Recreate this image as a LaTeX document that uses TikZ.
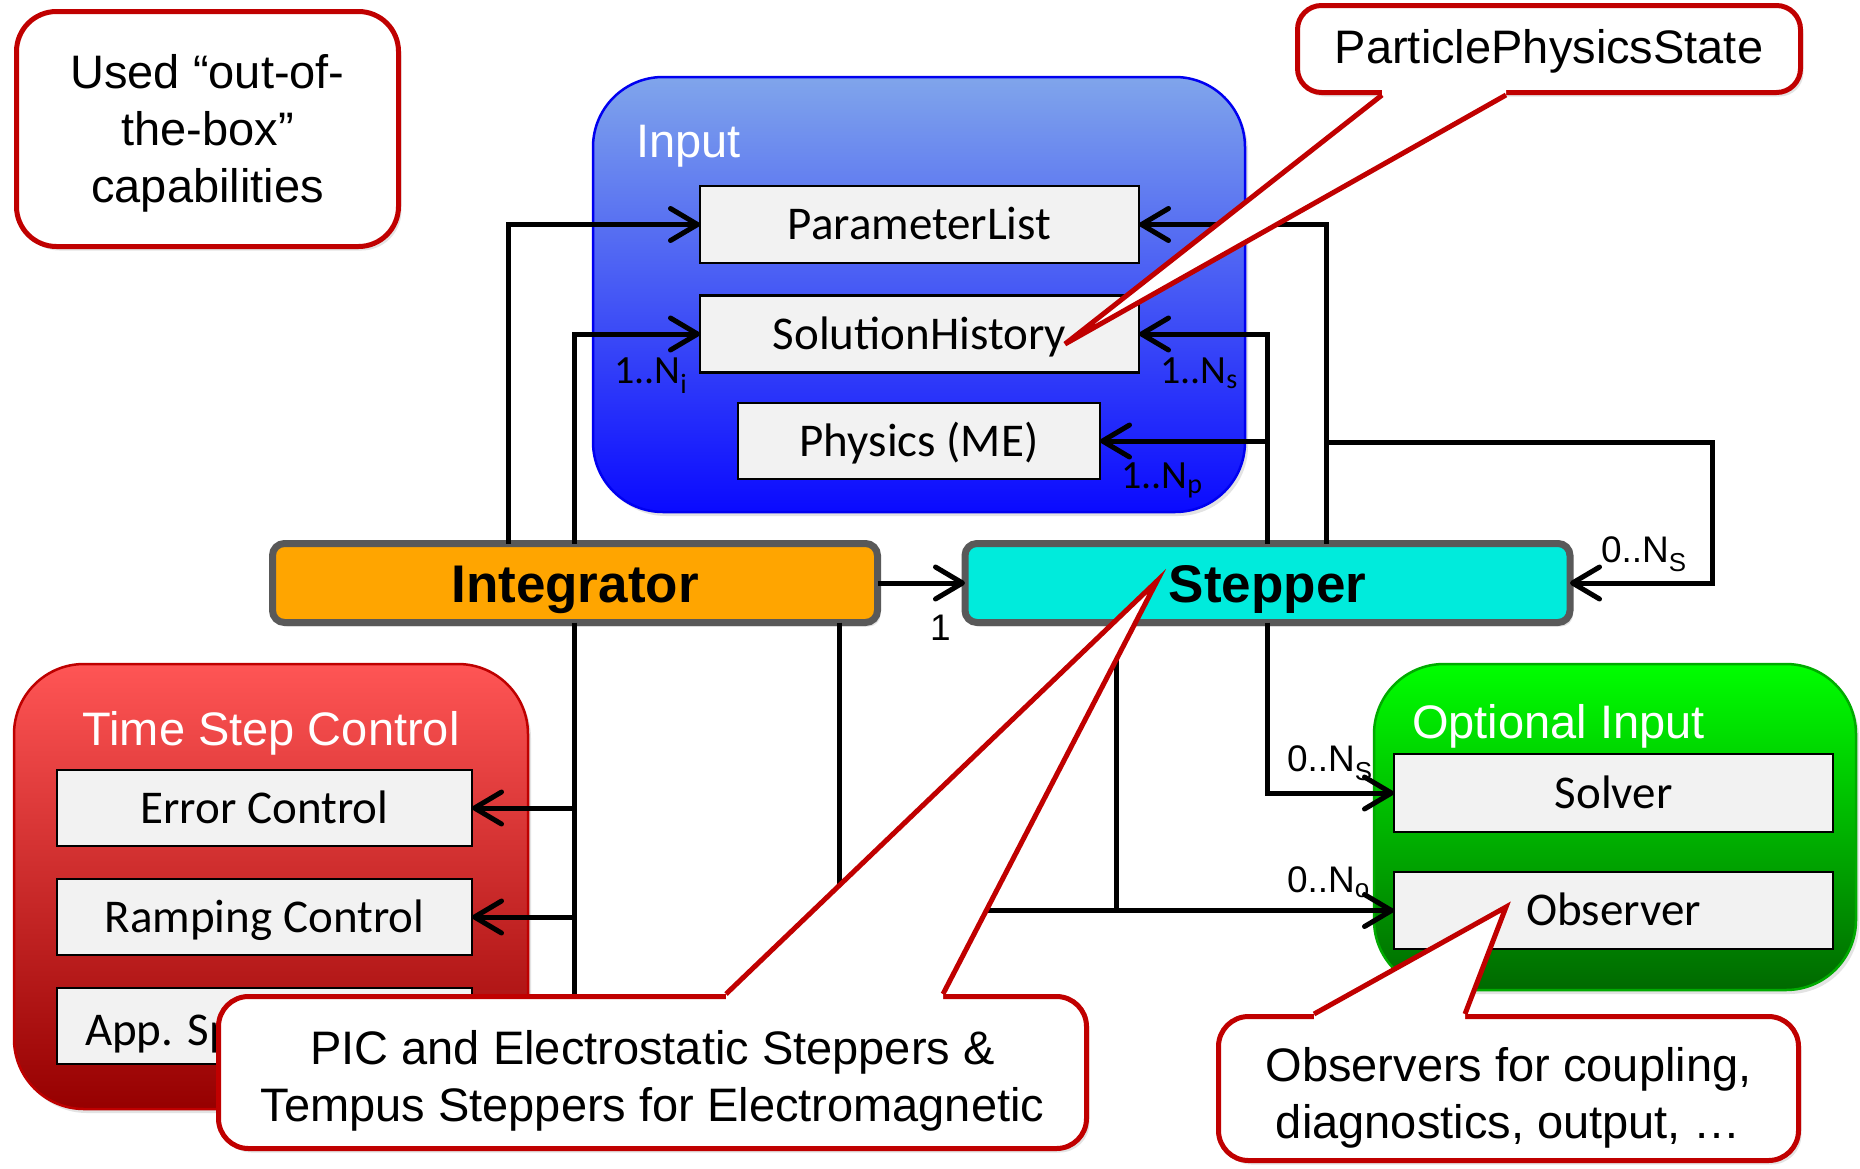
\documentclass[tikz,border=0pt]{standalone}
\usepackage{fontspec}
\setmainfont{Liberation Sans}
\newfontfamily\calfont{Carlito}
\usetikzlibrary{arrows.meta,shadows}

\definecolor{cored}{RGB}{192,0,0}
\definecolor{boxgray}{RGB}{242,242,242}
\definecolor{edgegray}{RGB}{89,89,89}
\definecolor{intorange}{RGB}{255,165,0}
\definecolor{stepcyan}{RGB}{0,235,220}
\definecolor{intop}{RGB}{128,165,235}
\definecolor{inbot}{RGB}{10,10,255}
\definecolor{inedge}{RGB}{0,0,240}
\definecolor{tsctop}{RGB}{255,85,85}
\definecolor{tscbot}{RGB}{150,0,0}
\definecolor{tscedge}{RGB}{190,0,0}
\definecolor{optop}{RGB}{0,255,0}
\definecolor{opbot}{RGB}{0,105,0}
\definecolor{opedge}{RGB}{0,170,0}

\newcommand{\calltail}[6]{% b1x, b2x, basey, inwardy, tipx, tipy
  \fill[white] (#1,#4) -- (#1,#3) -- (#5,#6) -- (#2,#3) -- (#2,#4) -- cycle;
  \draw[cored, line width=5pt, line join=miter] (#1,#3) -- (#5,#6) -- (#2,#3);
}

\begin{document}
\begin{tikzpicture}[x=1pt,y=-1pt,
  every node/.style={inner sep=0pt, outer sep=0pt},
  softshadow/.style={drop shadow={opacity=0.22, shadow xshift=3pt, shadow yshift=-4pt}},
  container/.style={rectangle, rounded corners=70pt, softshadow, line width=2.5pt},
  item/.style={rectangle, draw=black, line width=2.5pt, fill=boxgray,
    text height=36pt, text depth=6pt, font=\calfont\fontsize{47}{56}\selectfont},
  mainbox/.style={rectangle, rounded corners=12pt, draw=edgegray, line width=7pt, softshadow,
    minimum width=605pt, minimum height=79pt, text height=44pt, text depth=6pt,
    font=\bfseries\fontsize{53}{60}\selectfont},
  callbox/.style={rectangle, draw=cored, line width=5pt, fill=white, softshadow},
  calltext/.style={align=center, font=\fontsize{47}{57}\selectfont},
  conn/.style={line width=5pt, black},
  arr/.style={conn, -{Straight Barb[length=27pt,width=32pt,round]}},
  lab/.style={anchor=base west, font=\fontsize{37}{40}\selectfont},
  clab/.style={anchor=base west, font=\calfont\fontsize{40}{44}\selectfont},
  title/.style={text=white, font=\fontsize{47}{56}\selectfont}
]
\fill[white] (0,0) rectangle (1860,1168);
\useasboundingbox (0,0) rectangle (1860,1168);

% containers
\node[container, draw=inedge, top color=intop, bottom color=inbot,
  minimum width=652pt, minimum height=435pt] (input) at (919,294.5) {};
\node[container, draw=tscedge, top color=tsctop, bottom color=tscbot,
  minimum width=514pt, minimum height=445pt] (tsc) at (271,886.5) {};
\node[container, draw=opedge, top color=optop, bottom color=opbot,
  minimum width=482pt, minimum height=326pt] (opt) at (1615,827) {};

% titles
\node[title, anchor=base west] (inputtitle) at (636,157) {Input};
\node[title, anchor=base] (tsctitle) at (271,745) {Time Step Control};
\node[title, anchor=base west] (opttitle) at (1412,738) {Optional Input};

% items
\node[item, minimum width=439pt, minimum height=77pt] (plist) at (919.5,224.5) {ParameterList};
\node[item, minimum width=439pt, minimum height=77pt] (shist) at (919.5,334) {SolutionHistory};
\node[item, minimum width=362pt, minimum height=76pt] (phys) at (919,441) {Physics (ME)};
\node[item, minimum width=415pt, minimum height=76pt] (errc) at (264.5,808) {Error Control};
\node[item, minimum width=415pt, minimum height=76pt] (rampc) at (264.5,917) {Ramping Control};
\node[item, minimum width=415pt, minimum height=76pt] (appc) at (264.5,1026) {};
\node[anchor=base west, font=\calfont\fontsize{47}{56}\selectfont] (apptxt) at (85,1045) {App. Specific};
\node[item, minimum width=439pt, minimum height=78pt] (solver) at (1613.5,793) {Solver};
\node[item, minimum width=439pt, minimum height=77pt] (obs) at (1613.5,910.5) {Observer};

% main boxes
\node[mainbox, fill=intorange] (integ) at (575,583) {Integrator};
\node[mainbox, fill=stepcyan] (stepr) at (1267.5,583) {Stepper};

% connectors
\coordinate (j1) at (1326,442);
\coordinate (r1) at (1712,442);
\draw[arr] (integ.north -| 508,0) |- (plist.west);
\draw[arr] (integ.north -| 574,0) |- (shist.west);
\draw[arr] (stepr.north -| 1267,0) |- (shist.east);
\draw[arr] (phys.east -| 1267,0) -- (phys.east);
\draw[arr] (stepr.north -| 1326,0) |- (plist.east);
\draw[arr] (j1) -- (r1) |- (stepr.east);
\draw[arr] (integ.east) -- (stepr.west);
\draw[conn] (integ.south -| 574,0) -- (574,1000);
\draw[arr] (errc.east -| 574,0) -- (errc.east);
\draw[arr] (rampc.east -| 574,0) -- (rampc.east);
\draw[arr] (integ.south -| 839,0) |- (obs.west);
\draw[conn] (stepr.south -| 1116,0) -- (obs.west -| 1116,0);
\draw[arr] (stepr.south -| 1267,0) |- (solver.west);

% labels
\node[clab] (lni) at (614,383) {1..N\textsubscript{i}};
\node[clab] (lns) at (1160,383) {1..N\textsubscript{s}};
\node[clab] (lnp) at (1121,488) {1..N\textsubscript{p}};
\node[lab] (lns2) at (1601,562) {0..N\textsubscript{S}};
\node[lab] (lone) at (930,640) {1};
\node[lab] (lsolv) at (1287,771) {0..N\textsubscript{S}};
\node[lab] (lobs) at (1287,892) {0..N\textsubscript{o}};

% callouts
\node[callbox, rounded corners=40pt, minimum width=382pt, minimum height=235pt] (used) at (207.5,129) {};
\node[calltext] (usedtext) at (207.5,133) {Used “out-of-\\the-box”\\capabilities};
\node[callbox, rounded corners=24pt, minimum width=503pt, minimum height=87pt] (pps) at (1549,49) {};
\node[calltext] (ppstext) at (1549,51) {ParticlePhysicsState};
\calltail{1382}{1506}{95}{85}{1065}{344}
\node[callbox, rounded corners=30pt, minimum width=868pt, minimum height=152pt] (pic) at (652.5,1072.5) {};
\node[calltext] (pictext) at (652.5,1081) {PIC and Electrostatic Steppers \&\\Tempus Steppers for Electromagnetic};
\calltail{726}{943}{994}{1004}{1157}{581}
\node[callbox, rounded corners=30pt, minimum width=580pt, minimum height=144pt] (obscall) at (1508.5,1088.5) {};
\node[calltext] (obstext) at (1508.5,1098) {Observers for coupling,\\diagnostics, output, …};
\calltail{1314}{1465}{1014}{1024}{1506}{907}
\end{tikzpicture}
\end{document}
